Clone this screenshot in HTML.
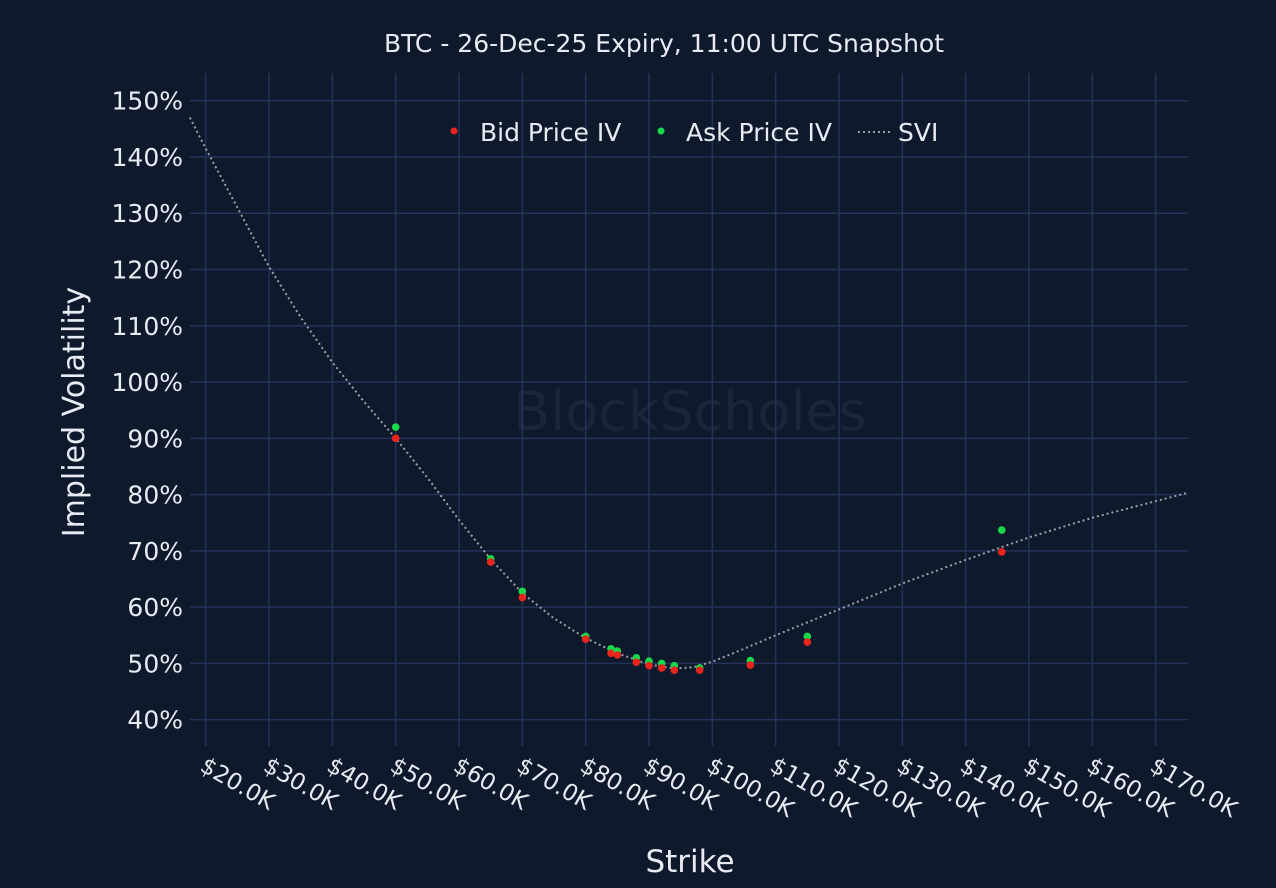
<!DOCTYPE html>
<html><head><meta charset="utf-8"><style>
html,body{margin:0;padding:0;background:#0f192c;}
svg{display:block;font-family:"DejaVu Sans","Liberation Sans",sans-serif;}
</style></head><body>
<svg id="s" width="1276" height="888" viewBox="0 0 1276 888" xmlns="http://www.w3.org/2000/svg">
<rect width="1276" height="888" fill="#0f192c"/>
<text x="690" y="430" font-size="54" fill="#1b2538" text-anchor="middle">BlockScholes</text>
<g id="grid"></g>
<g id="curve"></g>
<g id="pts"></g>
<g id="labels" fill="#e8ecf2"></g>
<text x="664" y="52" font-size="25" fill="#e8ecf2" text-anchor="middle">BTC - 26-Dec-25 Expiry, 11:00 UTC Snapshot</text>
<circle cx="454" cy="131" r="3.5" fill="#e8251c"/>
<text x="480" y="141" font-size="25" fill="#e8ecf2">Bid Price IV</text>
<circle cx="661" cy="131" r="3.5" fill="#19d94a"/>
<text x="686" y="141" font-size="25" fill="#e8ecf2">Ask Price IV</text>
<line x1="858" y1="132" x2="890" y2="132" stroke="#9aa0a8" stroke-width="2" stroke-dasharray="2,3"/>
<text x="898" y="141" font-size="25" fill="#e8ecf2">SVI</text>
<text transform="translate(84,412) rotate(-90)" font-size="30" fill="#e8ecf2" text-anchor="middle">Implied Volatility</text>
<text x="690" y="872" font-size="31" fill="#e8ecf2" text-anchor="middle">Strike</text>
</svg>
<script>
var NS="http://www.w3.org/2000/svg";
function X(k){return 205.7+(k-20)*6.333;}
function Y(v){return 100.7+(150-v)*5.627;}
function el(t,a,p,txt){var e=document.createElementNS(NS,t);for(var k in a)e.setAttribute(k,a[k]);if(txt)e.textContent=txt;document.getElementById(p).appendChild(e);}
for(var v=40;v<=150;v+=10){var y=Y(v);el("line",{x1:190,x2:1188,y1:y,y2:y,stroke:"#22335a","stroke-width":1.5},"grid");
el("text",{x:183,y:y+9,"font-size":25,"text-anchor":"end"},"labels",v+"%");}
for(var k=20;k<=170;k+=10){var x=X(k);el("line",{x1:x,x2:x,y1:73,y2:746,stroke:"#22335a","stroke-width":1.5},"grid");
el("text",{transform:"translate("+(x-7)+",770) rotate(30)","font-size":23},"labels","$"+k+".0K");}
var c=[[17.5,147],[20,141.5],[25,131],[30,120.5],[35,111.5],[40,103.5],[45,96.5],[50,90],[55,83],[60,75.5],[65,68.5],[70,62.5],[75,58],[80,54.5],[85,51.8],[90,49.8],[94,49.1],[97,49.3],[100,50.3],[105,52.6],[110,55],[120,59.6],[130,64.2],[140,68.4],[150,72.4],[160,75.9],[175,80.3]];
var d="";c.forEach(function(p,i){d+=(i?"L":"M")+X(p[0]).toFixed(1)+","+Y(p[1]).toFixed(1);});
el("path",{d:d,fill:"none",stroke:"#9aa0a8","stroke-width":2,"stroke-dasharray":"2,3"},"curve");
var P=[[50,90,92],[65,68,68.6],[70,61.7,62.8],[80,54.3,54.8],[84,51.8,52.6],[85,51.5,52.2],[88,50.2,51],[90,49.6,50.4],[92,49.2,50],[94,48.8,49.6],[98,48.8,49.2],[106,49.7,50.5],[115,53.8,54.8],[145.7,69.8,73.7]];
P.forEach(function(p){el("circle",{cx:X(p[0]),cy:Y(p[2]),r:3.8,fill:"#19d94a"},"pts");el("circle",{cx:X(p[0]),cy:Y(p[1]),r:3.8,fill:"#e8251c"},"pts");});
</script>
</body></html>
